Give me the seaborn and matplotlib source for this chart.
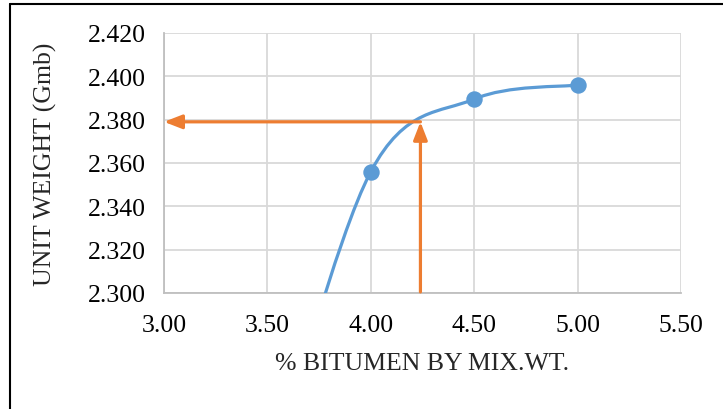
import matplotlib
matplotlib.use("Agg")
import matplotlib.pyplot as plt
import seaborn as sns
import pandas as pd
import numpy as np
from matplotlib.path import Path
from matplotlib.patches import PathPatch
from matplotlib.lines import Line2D

# data
bitumen = [3.50, 4.00, 4.50, 5.00]          # 3.50 point lies below the visible range
gmb = [2.21, 2.356, 2.3895, 2.396]
opt_bitumen = 4.24
opt_gmb = 2.379
x_ticks = [3.00, 3.50, 4.00, 4.50, 5.00, 5.50]
y_ticks = [2.300, 2.320, 2.340, 2.360, 2.380, 2.400, 2.420]
x_label = "% BITUMEN BY MIX.WT."
y_label = "UNIT WEIGHT (Gmb)"

blue = "#5b9bd5"
orange = "#ed7d31"
grid = "#d9d9d9"

sns.set_theme(style="white")
plt.rcParams['font.family'] = ['Liberation Serif', 'DejaVu Serif']

fig = plt.figure(figsize=(7.23, 4.10), dpi=100)
ax = fig.add_axes([164/723, 1-294/410, (681-164)/723, (294-34)/410])

df = pd.DataFrame({"x": bitumen, "y": gmb})

# Excel-like smoothed line (cubic Bezier, Catmull-Rom style control points)
pts = np.column_stack([bitumen, gmb])
n = len(pts)
verts = [tuple(pts[0])]
codes = [Path.MOVETO]
for i in range(n - 1):
    p_prev = pts[i - 1] if i > 0 else pts[i]
    p_next2 = pts[i + 2] if i + 2 < n else pts[i + 1]
    c1 = pts[i] + (pts[i + 1] - p_prev) / 6.0
    c2 = pts[i + 1] - (p_next2 - pts[i]) / 6.0
    verts += [tuple(c1), tuple(c2), tuple(pts[i + 1])]
    codes += [Path.CURVE4] * 3
patch = PathPatch(Path(verts, codes), facecolor="none", edgecolor=blue, lw=2.3,
                  transform=ax.transData, zorder=3, capstyle="round")
ax.add_patch(patch)
patch.set_clip_path(ax.patch)

sns.scatterplot(data=df, x="x", y="y", ax=ax, color=blue, s=140, edgecolor=blue,
                linewidth=0, zorder=4, clip_on=True)

# orange guide arrows
ax.annotate("", xy=(opt_bitumen, opt_gmb), xytext=(opt_bitumen, 2.3005),
            arrowprops=dict(arrowstyle="-|>,head_length=0.9,head_width=0.35",
                            color=orange, lw=2.3, shrinkA=0, shrinkB=0), zorder=5)
ax.annotate("", xy=(x_ticks[0], opt_gmb), xytext=(opt_bitumen, opt_gmb),
            arrowprops=dict(arrowstyle="-|>,head_length=0.9,head_width=0.35",
                            color=orange, lw=2.3, shrinkA=0, shrinkB=0), zorder=5)

ax.set_xlim(x_ticks[0], x_ticks[-1])
ax.set_ylim(y_ticks[0], y_ticks[-1])
ax.set_xticks(x_ticks)
ax.set_yticks(y_ticks)
ax.set_xticklabels([f"{v:.2f}" for v in x_ticks], fontsize=18.5)
ax.set_yticklabels([f"{v:.3f}" for v in y_ticks], fontsize=18.5)
ax.grid(True, color=grid, lw=1.3)
ax.set_axisbelow(True)
for s in ["top", "right"]:
    ax.spines[s].set_visible(False)
for s in ["left", "bottom"]:
    ax.spines[s].set_color("#bfbfbf")
    ax.spines[s].set_linewidth(1.3)
ax.tick_params(axis="both", length=0, colors="black")
ax.tick_params(axis="x", pad=15)
ax.tick_params(axis="y", pad=13)
ax.set_xlabel(x_label, fontsize=18.5, labelpad=12)
ax.set_ylabel(y_label, fontsize=18.5, labelpad=22)

# outer chart border (top and left visible)
fig.add_artist(Line2D([10/723, 10/723], [0, 1-5/410], transform=fig.transFigure, color="black", lw=1.5))
fig.add_artist(Line2D([10/723, 1], [1-5/410, 1-5/410], transform=fig.transFigure, color="black", lw=1.5))

fig.savefig("out.png", dpi=100, facecolor="white")
